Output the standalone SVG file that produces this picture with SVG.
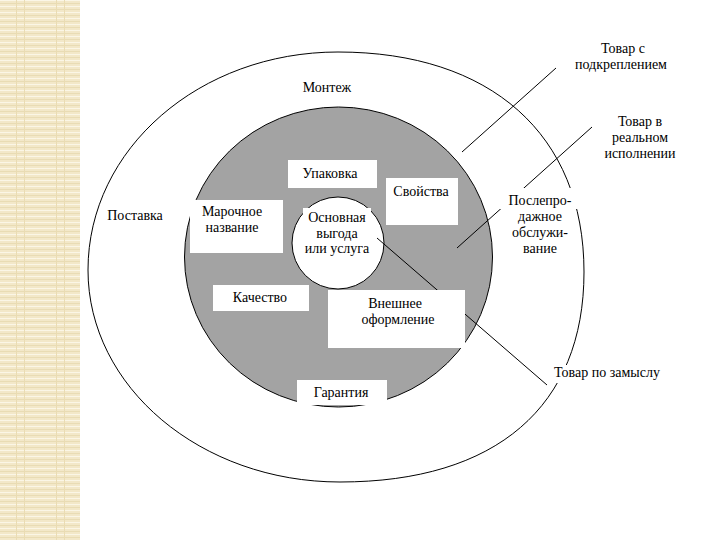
<svg xmlns="http://www.w3.org/2000/svg" width="720" height="540" viewBox="0 0 720 540">
<defs>
<pattern id="stripe" x="0" y="0" width="80" height="6" patternUnits="userSpaceOnUse">
<rect width="80" height="6" fill="#f3e8c9"/>
<rect y="0" width="80" height="1" fill="#fbf6e6"/>
<rect y="3" width="80" height="1" fill="#e9dcb4"/>
<rect x="16" width="1" height="6" fill="#eadcb3"/>
<rect x="24" width="1" height="6" fill="#eadcb3"/>
<rect x="56" width="1" height="6" fill="#eadcb3"/>
<rect x="64" width="1" height="6" fill="#eadcb3"/>
</pattern>
<style>
.t{font-family:'Liberation Serif','Times New Roman','DejaVu Serif',serif;font-size:14px;fill:#000;text-anchor:middle}
.ln{stroke:#000;stroke-width:1;fill:none}
.box{fill:#fff;stroke:none}
</style>
</defs>
<rect width="720" height="540" fill="#fff"/>
<rect x="0" y="0" width="80" height="540" fill="url(#stripe)"/>

<g id="outer">
<path class="ln" d="M338 52 C490.5 52 584 134.4 584 272 C584 406.4 496.2 482 340 482 C200.9 482 88 387 88 270 C88 148.6 200 52 338 52 Z"/>
</g>
<g id="core">
<ellipse cx="338.5" cy="257" rx="154" ry="150" fill="#a3a3a3" stroke="#000" stroke-width="1"/>
</g>
<g id="benefit">
<circle cx="338" cy="243" r="46" fill="#fff" stroke="#000" stroke-width="1"/>
</g>

<g id="connectors">
<line class="ln" x1="462" y1="152" x2="556" y2="68"/>
<line class="ln" x1="457" y1="248" x2="592" y2="127"/>
<line class="ln" x1="377" y1="238" x2="547" y2="385"/>
</g>

<g font-family="Liberation Serif, serif">
<g id="n-montazh"><text class="t" x="327" y="92">Монтеж</text></g>
<g id="n-postavka"><text class="t" x="135" y="220">Поставка</text></g>
<g id="n-upakovka"><rect class="box" x="288" y="160" width="89" height="28"/><text class="t" x="330" y="178">Упаковка</text></g>
<g id="n-svoistva"><rect class="box" x="386" y="178" width="72" height="47"/><text class="t" x="421" y="196">Свойства</text></g>
<g id="n-marka"><rect class="box" x="190" y="200" width="93" height="53"/><text class="t" x="232" y="216">Марочное</text><text class="t" x="232" y="232">название</text></g>
<g id="n-osnova"><rect class="box" x="303" y="208" width="68" height="17"/><rect class="box" x="300" y="242" width="74" height="15"/><text class="t" x="337" y="222">Основная</text><text class="t" x="337" y="238">выгода</text><text class="t" x="337" y="253">или услуга</text></g>
<g id="n-kachestvo"><rect class="box" x="213" y="285" width="96" height="26"/><text class="t" x="260" y="302">Качество</text></g>
<g id="n-vneshnee"><rect class="box" x="328" y="290" width="137" height="58"/><text class="t" x="395" y="308">Внешнее</text><text class="t" x="398" y="324">оформление</text></g>
<g id="n-garantiya"><rect class="box" x="297" y="380" width="90" height="25"/><text class="t" x="341" y="397">Гарантия</text></g>
<g id="n-posle"><rect class="box" x="500" y="188" width="82" height="21"/><text class="t" x="540" y="205">Послепро-</text><text class="t" x="540" y="221">дажное</text><text class="t" x="540" y="237">обслужи-</text><text class="t" x="540" y="253">вание</text></g>
<g id="n-podkr"><text class="t" x="623" y="53">Товар с</text><text class="t" x="621" y="69">подкреплением</text></g>
<g id="n-real"><text class="t" x="640" y="126">Товар в</text><text class="t" x="640" y="142">реальном</text><text class="t" x="640" y="158">исполнении</text></g>
<g id="n-zamysel"><rect class="box" x="548" y="365" width="119" height="18"/><text class="t" x="607" y="377">Товар по замыслу</text></g>
</g>
</svg>
